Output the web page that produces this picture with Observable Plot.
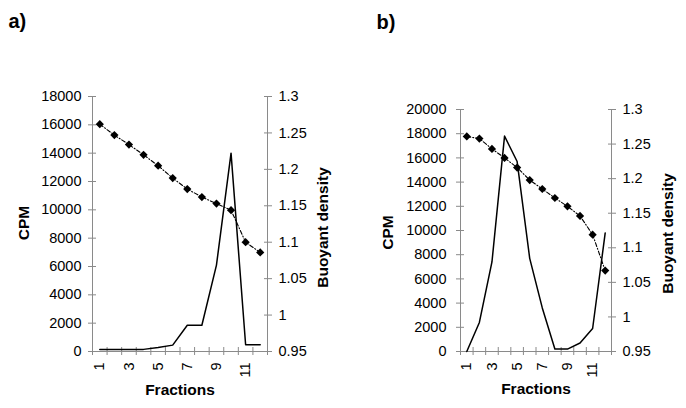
<!DOCTYPE html>
<html><head><meta charset="utf-8">
<script src="https://cdn.jsdelivr.net/npm/d3@7"></script>
<script src="https://cdn.jsdelivr.net/npm/@observablehq/plot@0.6"></script>
<style>
body{margin:0;background:#fff;}
#chart{position:relative;width:686px;height:408px;overflow:hidden;background:#fff;}
.layer{position:absolute;top:0;}
</style></head><body><div id="chart"></div>
<script>
const fractions = [1,2,3,4,5,6,7,8,9,10,11,12];
const cpmA = [150,150,150,150,280,450,1850,1850,6100,14000,480,480];
const densityA = [1.262,1.247,1.234,1.220,1.205,1.188,1.173,1.162,1.153,1.144,1.100,1.086];
const cpmB = [0,2400,7400,17800,15700,7700,3600,200,200,700,1900,9800];
const densityB = [1.261,1.258,1.243,1.230,1.216,1.198,1.185,1.172,1.160,1.146,1.119,1.067];
const cpmTicksA = [0,2000,4000,6000,8000,10000,12000,14000,16000,18000];
const cpmTicksB = [0,2000,4000,6000,8000,10000,12000,14000,16000,18000,20000];
const densityTicks = [0.95,1,1.05,1.1,1.15,1.2,1.25,1.3];
const fractionLabels = [1,3,5,7,9,11];
const panelNames = ["a)","b)"];

const FONT = '"Liberation Sans", Arial, sans-serif';
const GRAY = "#8a8a8a";
const fmt = d => `${d}`;
const bounds = fractions.map(f => f - 0.5).concat([fractions[fractions.length-1] + 0.5]);
const xDomain = [bounds[0], bounds[bounds.length-1]];

function panel(offset, m, cpm, density, cpmTicks, name, L) {
  const W = 343, H = 408;
  const rows = fractions.map((f,i) => ({f, cpm: cpm[i], density: density[i]}));
  const common = {
    width: W, height: H,
    marginLeft: m.left, marginRight: m.right, marginTop: m.top, marginBottom: m.bottom,
    style: {fontFamily: FONT, fontSize: "14.5px", background: "transparent", color: "#000", overflow: "visible"},
    x: {type: "linear", domain: xDomain, axis: null}
  };
  const p1 = Plot.plot({
    ...common,
    y: {domain: [0, cpmTicks[cpmTicks.length-1]], axis: null},
    marks: [
      Plot.ruleX([xDomain[0]], {stroke: GRAY}),
      Plot.ruleY([0], {stroke: GRAY}),
      Plot.axisY({ticks: cpmTicks, tickSize: 8, dx: 4, tickPadding: L.lpad, tickFormat: fmt, label: null, stroke: GRAY, fill: "#000"}),
      Plot.axisX({ticks: bounds, tickSize: 8, dy: -4, tickFormat: () => "", label: null, stroke: GRAY}),
      Plot.axisX({ticks: fractionLabels, tickSize: 0, tickPadding: 11, tickRotate: -90, tickFormat: fmt, label: null, fill: "#000"}),
      Plot.line(rows, {x: "f", y: "cpm", stroke: "#000", strokeWidth: 1.5}),
      Plot.text(["CPM"], {text: d => d, frameAnchor: "left", textAnchor: "middle", lineAnchor: "middle", rotate: -90, dx: L.cpmDx, dy: L.cpmDy, fontWeight: "bold", fontSize: 15.5}),
      Plot.text(["Fractions"], {text: d => d, frameAnchor: "bottom", textAnchor: "middle", lineAnchor: "middle", dy: L.fracDy, fontWeight: "bold", fontSize: 15.5}),
      Plot.text([name], {text: d => d, frameAnchor: "top-left", textAnchor: "start", lineAnchor: "middle", dx: L.nameDx, dy: L.nameDy, fontWeight: "bold", fontSize: 20})
    ]
  });
  const p2 = Plot.plot({
    ...common,
    y: {domain: [densityTicks[0], densityTicks[densityTicks.length-1]], axis: null},
    marks: [
      Plot.ruleX([xDomain[1]], {stroke: GRAY}),
      Plot.axisY({anchor: "right", ticks: densityTicks, tickSize: 8, dx: -4, tickPadding: 7, tickFormat: fmt, label: null, stroke: GRAY, fill: "#000"}),
      Plot.line(rows, {x: "f", y: "density", stroke: "#000", strokeWidth: 1.1, strokeDasharray: "4,2,1,2"}),
      Plot.dot(rows, {x: "f", y: "density", symbol: "diamond2", r: 3.7, fill: "#000", stroke: "none"}),
      Plot.text(["Buoyant density"], {text: d => d, frameAnchor: "right", textAnchor: "middle", lineAnchor: "middle", rotate: -90, dx: L.bdDx, dy: L.bdDy, fontWeight: "bold", fontSize: 15.5})
    ]
  });
  for (const p of [p1, p2]) {
    p.classList.add("layer");
    p.style.left = offset + "px";
    document.getElementById("chart").appendChild(p);
  }
}

panel(0, {left: 92, right: 76, top: 96, bottom: 57}, cpmA, densityA, cpmTicksA, panelNames[0],
  {lpad: 7, cpmDx: -68, cpmDy: -1, fracDy: 39, nameDx: -84, nameDy: -74.5, bdDx: 56, bdDy: 3.5});
panel(343, {left: 117, right: 75, top: 109, bottom: 57}, cpmB, densityB, cpmTicksB, panelNames[1],
  {lpad: 10, cpmDx: -72, cpmDy: 2, fracDy: 38, nameDx: -84, nameDy: -87, bdDx: 57, bdDy: 3});
</script></body></html>
